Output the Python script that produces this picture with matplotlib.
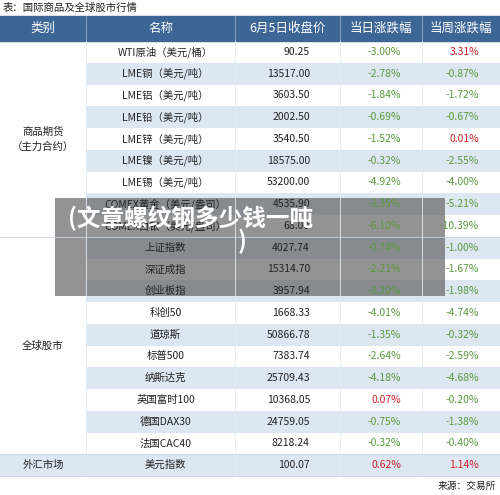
import matplotlib.pyplot as plt
from matplotlib.patches import Rectangle

plt.rcParams['font.family'] = ['Noto Sans CJK SC', 'DejaVu Sans']

headers = ['类别', '名称', '6月5日收盘价', '当日涨跌幅', '当周涨跌幅']
names = ['WTI原油（美元/桶）', 'LME铜（美元/吨）', 'LME铝（美元/吨）', 'LME铅（美元/吨）',
         'LME锌（美元/吨）', 'LME镍（美元/吨）', 'LME锡（美元/吨）', 'COMEX黄金（美元/盎司）',
         'COMEX白银（美元/盎司）', '上证指数', '深证成指', '创业板指', '科创50', '道琼斯',
         '标普500', '纳斯达克', '英国富时100', '德国DAX30', '法国CAC40', '美元指数']
prices = ['90.25', '13517.00', '3603.50', '2002.50', '3540.50', '18575.00', '53200.00',
          '4535.90', '68.00', '4027.74', '15314.70', '3957.94', '1668.33', '50866.78',
          '7383.74', '25709.43', '10368.05', '24759.05', '8218.24', '100.07']
day_chg = [-3.00, -2.78, -1.84, -0.69, -1.52, -0.32, -4.92, -3.35, -6.10, -0.74, -2.21,
           -3.20, -4.01, -1.35, -2.64, -4.18, 0.07, -0.75, -0.32, 0.62]
week_chg = [3.31, -0.87, -1.72, -0.67, 0.01, -2.55, -4.00, -5.21, -10.39, -1.00, -1.67,
            -1.98, -4.74, -0.32, -2.59, -4.68, -0.20, -1.38, -0.40, 1.14]
categories = [('商品期货\n（主力合约）', 0, 9), ('全球股市', 9, 19), ('外汇市场', 19, 20)]

W, H = 500, 495
fig = plt.figure(figsize=(5, 4.95), dpi=100)
ax = fig.add_axes([0, 0, 1, 1])
ax.set_xlim(0, W)
ax.set_ylim(H, 0)
ax.axis('off')

cols = [0, 86, 235, 340, 422, 500]
top, hh, rh = 16, 25, 21.75
hdr = '#3d6596'
band = '#dde7f2'
green, red = '#5a9a3c', '#d0202a'

ax.text(3, 8, '表：国际商品及全球股市行情', fontsize=7.5, va='center', color='#222222')
ax.add_patch(Rectangle((0, top), W, hh, color=hdr))
for i, h in enumerate(headers):
    ax.text((cols[i] + cols[i + 1]) / 2, top + hh / 2, h, color='white', fontsize=9,
            ha='center', va='center')
    if i > 0:
        ax.plot([cols[i], cols[i]], [top, top + hh], color='#8fa8c8', lw=0.6)

y0 = top + hh
for r in range(len(names)):
    y = y0 + r * rh
    if r % 2 == 1:
        ax.add_patch(Rectangle((cols[1], y), W - cols[1], rh, color=band, lw=0))
    cy = y + rh / 2
    ax.text((cols[1] + cols[2]) / 2 + 5, cy, names[r], fontsize=7.5, ha='center', va='center', color='#222222')
    ax.text(310, cy, prices[r], fontsize=7.5, ha='right', va='center', color='#222222')
    ax.text(401, cy, f'{day_chg[r]:.2f}%', fontsize=7.5, ha='right', va='center',
            color=red if day_chg[r] > 0 else green)
    ax.text(479, cy, f'{week_chg[r]:.2f}%', fontsize=7.5, ha='right', va='center',
            color=red if week_chg[r] > 0 else green)

for label, a, b in categories:
    ya, yb = y0 + a * rh, y0 + b * rh
    if a == 19:
        ax.add_patch(Rectangle((0, ya), cols[1], rh, color=band, lw=0))
    ax.text(cols[1] / 2, (ya + yb) / 2, label, fontsize=7.5, ha='center', va='center',
            color='#222222', linespacing=1.6)
    ax.plot([0, W], [yb, yb], color='#c8d3e0', lw=0.6)
for c in cols[1:-1]:
    ax.plot([c, c], [y0, y0 + len(names) * rh], color='#e4eaf2', lw=0.6)

ax.text(W - 4, 486, '来源：交易所', fontsize=7, ha='right', va='center', color='#222222')

# overlay caption box
ax.add_patch(Rectangle((55, 198), 390, 98, color='#5a5a5a', alpha=0.65, lw=0))
ax.text(68, 218, '(文章螺纹钢多少钱一吨', fontsize=17, fontweight='bold', color='white',
        ha='left', va='center')
ax.text(242, 241, ')', fontsize=17, fontweight='bold', color='white', ha='center', va='center')

fig.savefig('out.png', dpi=100)
